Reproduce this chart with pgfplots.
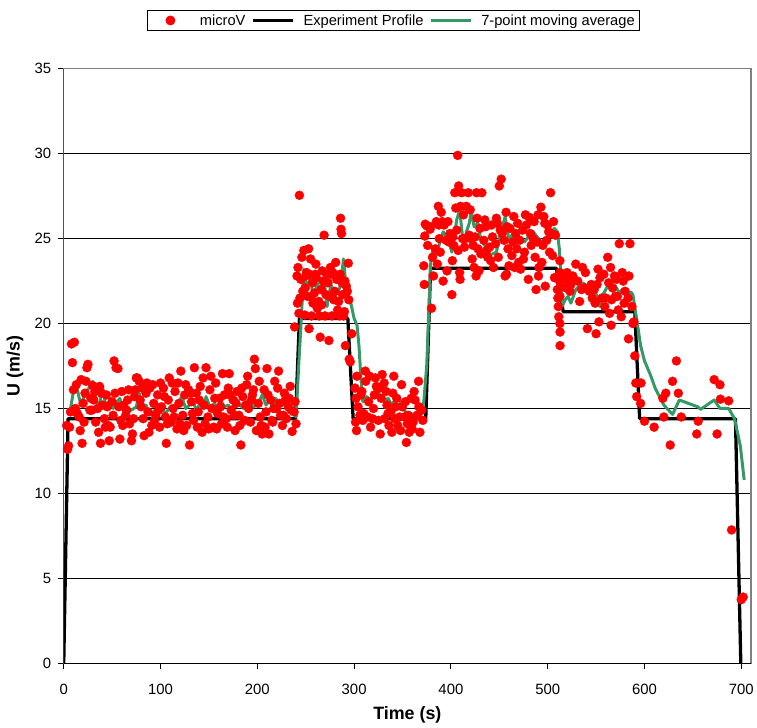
\documentclass[border=0pt]{standalone}
\usepackage{fontspec}
\setmainfont{Liberation Sans}
\usepackage{pgfplots}
\pgfplotsset{compat=1.18}
\definecolor{avggreen}{RGB}{51,153,102}
\pgfplotsset{
  lineleg/.style={legend image code/.code={\draw[##1] (0bp,0bp) -- (40bp,0bp);}},
  dotleg/.style={legend image code/.code={\path (0bp,0bp) (40bp,0bp); \fill[red] (20bp,0bp) circle[radius=4.5bp];}},
}

\begin{document}
\begin{tikzpicture}
\begin{axis}[
  scale only axis,
  width=690bp, height=597bp,
  xmin=0, xmax=710, ymin=0, ymax=35,
  xtick={0,100,...,700}, ytick={0,5,...,35},
  ymajorgrids, grid style={black, line width=0.9bp},
  axis line style={gray, line width=1.3bp},
  tick align=outside, xtick pos=left, ytick pos=left,
  major tick length=6bp,
  tick style={black, line width=1bp},
  /pgf/number format/assume math mode=true,
  tick label style={font=\fontsize{15}{18}\selectfont},
  xticklabel style={yshift=-11bp},
  yticklabel style={xshift=-3bp},
  xlabel={Time (s)}, ylabel={U (m/s)},
  every axis x label/.style={at={(axis description cs:0.5,0)}, yshift=-52bp, anchor=center,
    font=\bfseries\fontsize{18}{21}\selectfont},
  every axis y label/.style={at={(axis description cs:0,0.5)}, xshift=-49bp, anchor=center, rotate=90,
    font=\bfseries\fontsize{18}{21}\selectfont},
  legend columns=3,
  legend style={at={(axis description cs:0.4797,1.0988)}, anchor=north,
    draw=black, line width=0.9bp, font=\fontsize{14.8}{18}\selectfont,
    inner xsep=3bp, inner ysep=2bp,
    /tikz/every odd column/.append style={column sep=7bp},
    /tikz/every even column/.append style={column sep=4bp}},
]

% measured speed
\addplot[only marks, mark=*, mark size=4.5bp, color=red, dotleg]
coordinates {
 (4,12.6) (5,12.8) (6,13.9) (7,14.8) (8,18.8) (9,17.7) (11,18.9) (12,15.0) (13,16.4) (14,14.7)
 (16,14.5) (17,13.7) (18,16.7) (19,12.95) (20,15.3) (22,15.9) (24,17.4) (25,17.6) (27,14.9) (28,15.6)
 (30,16.35) (31,15.5) (33,14.2) (35,15.0) (37,16.3) (38,12.95) (40,15.2) (42,14.4) (44,15.8) (46,14.0)
 (47,13.1) (48,13.9) (50,15.4) (52,17.8) (54,17.4) (56,17.35) (58,13.2) (59,14.3) (60,16.0) (62,15.2)
 (64,14.6) (66,15.5) (68,14.1) (70,13.1) (71,13.5) (73,15.7) (75,16.8) (76,16.8) (78,16.6) (80,15.1)
 (82,14.4) (83,13.4) (85,15.9) (87,14.8) (89,16.2) (91,14.0) (93,15.3) (95,14.6) (97,15.8) (99,13.9)
 (101,15.1) (103,16.2) (105,14.5) (106,12.95) (108,15.5) (109,16.8) (111,14.2) (113,15.0) (115,16.0) (117,13.8)
 (119,15.3) (121,17.2) (123,14.6) (125,15.8) (127,14.0) (129,16.1) (130,12.85) (132,15.4) (134,14.3) (135,17.4)
 (137,15.9) (139,14.8) (141,16.3) (143,13.6) (145,15.2) (147,17.4) (149,14.5) (151,16.1) (153,15.0) (155,13.9)
 (157,16.5) (159,14.7) (161,15.6) (163,14.1) (164,17.05) (166,15.8) (168,14.4) (170,16.2) (171,17.05) (173,14.9)
 (175,15.5) (177,13.7) (179,16.0) (181,14.6) (183,12.85) (185,15.7) (187,14.3) (189,16.4) (191,15.0) (193,14.2)
 (195,15.8) (197,17.9) (198,17.35) (199,13.7) (201,15.3) (203,14.5) (205,13.5) (207,16.1) (209,14.8) (210,17.35)
 (212,13.5) (214,15.5) (216,14.2) (218,16.6) (220,15.0) (222,17.2) (224,14.6) (226,14.0) (228,15.9) (230,14.4)
 (232,15.1) (234,16.3) (236,13.65) (238,14.8) (240,14.1)
 (3,14.0) (10,16.1) (21,14.2) (23,16.6) (29,14.9) (32,16.0) (36,13.6) (39,15.9) (43,13.9) (45,15.1)
 (51,14.6) (53,15.9) (57,15.1) (61,14.0) (65,14.9) (67,16.1) (72,14.4) (74,16.1) (79,15.5) (81,16.2)
 (86,16.5) (88,13.6) (92,16.4) (94,14.3) (98,14.9) (100,16.5) (104,15.7) (107,14.1) (112,16.5) (114,14.5)
 (118,16.5) (120,14.1) (124,13.7) (126,16.4) (131,15.9) (133,14.7) (138,13.9) (140,15.5) (144,16.8) (146,14.1)
 (150,13.8) (152,16.9) (156,15.6) (158,13.8) (162,15.1) (165,14.5) (169,13.9) (172,15.8) (176,14.6) (178,15.3)
 (182,14.0) (184,16.2) (188,15.2) (190,16.9) (194,15.5) (196,16.1) (202,16.6) (204,14.0) (208,13.9) (211,15.8)
 (215,14.3) (217,15.0) (221,16.2) (223,15.3) (227,14.6) (229,15.5) (233,15.6) (235,14.9) (239,15.4)
 (238.5,19.8) (241,22.8) (241.5,21.2) (242,23.3) (243,20.6) (243.5,27.55) (244,21.5) (245,22.6) (246,23.9) (247,21.9)
 (248,24.3) (249,20.5) (250,22.8) (251,23.0) (252,21.6) (253,24.4) (253.5,19.7) (255,23.8) (256,20.45) (257,22.4)
 (258,21.3) (259,21.8) (260,22.9) (261,22.7) (262,20.9) (263.5,21.3) (264,20.45) (265,19.2) (266,22.0) (267,23.1)
 (268,22.5) (269,25.2) (270,20.45) (271,21.7) (273,22.4) (274,19.0) (275,21.6) (276,22.9) (277,20.45) (278,23.0)
 (279,21.4) (281,23.6) (282,22.6) (283,20.8) (284,21.3) (285,20.45) (286,26.2) (286.5,25.55) (287,25.3) (287.5,22.4)
 (288,21.7) (289,20.45) (290,20.7) (291,18.7) (292,22.2) (293,21.9) (294,23.55) (294.5,21.4) (295,17.9) (296,17.75)
 (297.5,19.4)
 (249.5,22.1) (254,22.9) (257.5,21.2) (260.5,23.5) (266.5,21.1) (272,22.9) (275.5,23.3) (280,21.9) (285.5,22.9) (290.5,22.5)
 (301,16.2) (302,15.6) (301.5,14.2) (302.5,13.7) (304,15.1) (306,14.6) (308,16.0) (310,14.7) (311.6,17.2) (312,16.6)
 (315,15.4) (317,13.9) (320,15.0) (322,16.8) (323,16.3) (325,14.3) (327,13.5) (329,17.0) (331,16.5) (331.5,14.4)
 (334,15.2) (336,14.0) (338,14.8) (340,15.9) (341,16.9) (342,14.4) (344,15.6) (345,14.0) (348,13.7) (350,15.1)
 (352,14.5) (354,13.0) (355,14.1) (357,13.6) (359,15.6) (361,14.2) (363,15.5) (365,14.6) (366.6,16.6) (368,13.6)
 (370,14.9) (371,14.3)
 (303,16.9) (307,15.8) (309,14.3) (314,14.5) (316,16.9) (319,14.4) (321,15.8) (326,16.2) (328,15.6) (333,16.0)
 (335,14.7) (339,13.6) (343,15.1) (347,14.5) (349,16.4) (353,15.4) (356,14.6) (360,13.8) (362,16.0) (367,15.1)
 (372,23.4) (372.5,22.3) (373,25.15) (373.5,25.85) (375,25.75) (376,24.6) (378.5,25.55) (379,25.7) (380,20.9) (382,22.8)
 (384,24.4) (385,26.0) (387,26.9) (387.5,25.8) (389,24.2) (390,26.55) (391,26.0) (392,22.5) (393,25.8) (395,24.9)
 (397,26.0) (399,25.3) (401,21.7) (401.5,23.7) (403,24.6) (404,27.7) (405,26.8) (406,25.5) (407,29.9) (408,28.1)
 (409,23.0) (409.5,22.6) (410,26.9) (411,27.7) (412,25.0) (413,26.4) (414,24.5) (415,25.0) (416,26.9) (418,27.7)
 (419,25.2) (420,26.7) (421,25.0) (422,23.8) (423,24.6) (424,23.3) (425,25.1) (426,22.8) (426.5,27.7) (428,24.4)
 (430,25.6) (431,24.1) (432,27.7) (434,24.9) (436,25.7) (438,23.9) (440,24.5) (443,25.1) (444,23.3) (446,24.7)
 (448,25.9) (450,28.1) (451,25.5) (452,28.5) (453,25.3) (455,24.9) (456,22.8) (457,26.55) (457.5,22.9) (459,24.4)
 (461,25.6) (463,24.0) (465,26.3) (466,23.3) (467,25.3) (469,25.9) (470,23.6) (471,24.9) (472,23.2) (474,25.5)
 (476,24.2) (478,25.8) (481,26.25) (483,24.6) (485,25.0) (487,23.9) (488,22.0) (490,26.4) (490.5,22.8) (491,23.3)
 (493,26.85) (495,24.6) (497,25.9) (497.5,22.2) (499,24.9) (501,25.4) (503,27.7) (503.5,25.3) (505,24.0) (507,22.7)
 (508,25.2) (510,22.0) (510.5,21.5) (511,21.0) (511.5,20.4)
 (381,23.9) (386,23.5) (388,25.0) (396,23.1) (398,24.8) (402,25.1) (407.5,24.3) (427,26.2) (429,23.1) (435,26.1)
 (437,24.3) (441,23.7) (442,25.8) (447,26.2) (449,23.9) (458,25.7) (460,23.4) (464,24.8) (468,24.4) (475,23.8)
 (477,26.4) (480,22.6) (482,25.3) (486,26.0) (489,24.8) (494,23.6) (496,26.3) (500,25.8) (502,24.2) (506,26.0)
 (512.6,23.7) (512.6,23.0) (512.6,22.45) (512.8,22.15) (512.6,21.6) (512.6,20.0) (512.8,19.5) (512.8,18.7) (519,22.1) (522,22.5)
 (522.6,22.6) (523,21.9) (526,22.8) (529,23.5) (533,21.3) (536,23.3) (538,22.1) (541,19.7) (543,21.9) (545,22.3)
 (546,21.5) (548,22.0) (550,19.4) (551,22.3) (553,20.1) (554,22.7) (556,21.5) (558,22.9) (560,21.5) (562,23.9)
 (563,22.4) (564,20.6) (565,23.3) (565.5,19.9) (567,22.1) (569,22.8) (570,21.6) (572,21.6) (574,24.7) (576,20.4)
 (578,22.5) (580,21.9) (583,21.5) (583.5,19.1) (585,24.7) (587,21.0) (588,20.0) (589,20.1) (590,18.1) (591,16.5)
 (516,22.6) (520,23.0) (524,22.3) (531,22.5) (535,22.0) (539,23.0) (549,21.2) (552,23.2) (559,21.0) (566,21.4)
 (571,22.6) (573,20.8) (577,23.0) (579,21.2) (584,22.8)
 (592,15.7) (596,15.3) (596.5,16.5) (600,14.25) (610,13.9) (619,15.6) (620,14.5) (622,15.9) (626.6,12.85) (629,16.6)
 (633,17.8) (635,15.9) (638,14.5) (654,13.5) (655.5,14.25) (672,16.7) (675,13.5) (678,16.4) (678.5,15.55) (687,15.45)
 (690,7.85) (700,3.75) (702,3.9)
};
\addlegendentry{microV}

% experiment profile
\addplot[black, line width=3.3bp, line join=round, lineleg]
coordinates {
 (0,0) (4.5,14.4) (239.5,14.4) (243.5,20.3) (293.5,20.3) (299,14.4) (374,14.4) (379,23.25)
 (509,23.25) (516,20.7) (590,20.7) (595,14.4) (694,14.4) (699.5,0)
};
\addlegendentry{Experiment Profile}

% 7-point moving average
\addplot[avggreen, line width=3bp, line join=round, lineleg]
coordinates {
 (7,15.0) (10,16.0) (13,16.4) (16,15.6) (18,15.2) (22,15.9) (26,16.2) (30,16.6) (34,15.4) (37,15.2)
 (40,16.3) (44,15.0) (48,15.6) (51,15.0) (55,15.4) (58,15.6) (62,14.8) (65,15.0) (70,14.9) (75,15.1)
 (78,15.9) (82,15.0) (85,15.2) (89,14.6) (94,14.9) (97,14.6) (101,15.0) (105,14.7) (110,15.1) (114,14.8)
 (118,15.3) (122,15.7) (126,15.0) (130,15.2) (133,15.5) (137,14.9) (141,15.3) (144,15.0) (147,15.7) (151,15.1)
 (156,15.3) (159,14.9) (162,15.5) (166,15.1) (170,15.2) (174,14.9) (178,15.6) (182,15.2) (186,15.0) (189,15.4)
 (192,15.45) (196,15.1) (200,15.2) (205,15.8) (209,15.2) (213,15.5) (216,15.1) (219,15.6) (223,15.3) (226,15.3)
 (230,15.1) (233,15.0) (237,14.8) (240,14.5) (243,17.8) (245,19.8) (248,23.2) (251,22.2) (255,22.6) (258,21.45)
 (262,22.4) (265,21.85) (269,22.6) (272,21.0) (276,22.3) (281,21.65) (286,22.2) (289,23.8) (292,22.0) (297,21.1)
 (300,20.3) (303,19.9) (305,18.7) (307,16.8) (309,15.4) (313,15.7) (317,15.5) (321,15.8) (325,16.0) (328,15.6)
 (331,15.4) (335,15.6) (339,15.2) (342,15.5) (346,15.6) (349,15.2) (353,14.8) (359,14.7) (363,14.5) (365,14.4)
 (368,14.5) (372,15.4) (375,17.5) (377,20.5) (379,23.5) (381,24.3) (383,23.9) (386,24.3) (392,25.4) (397,25.0)
 (401,24.2) (406,26.1) (409,26.7) (413,24.6) (416,25.4) (419,25.9) (421,26.6) (424,25.7) (428,25.9) (431,24.9)
 (435,24.6) (438,24.0) (443,24.1) (447,24.2) (450,25.0) (456,26.3) (460,24.9) (463,25.2) (468,24.9) (471,25.1)
 (476,24.8) (480,25.1) (485,25.4) (492,24.9) (497,24.75) (504,25.4) (507,25.6) (510,25.4) (512,24.4) (514,22.6)
 (515,21.0) (518,21.4) (521,21.6) (524,21.2) (529,22.0) (536,22.4) (541,22.2) (545,21.8) (548,22.1) (554,21.0)
 (557,21.7) (561,22.1) (565,22.2) (567,21.9) (570,22.2) (574,21.8) (577,22.0) (580,21.7) (586,21.85) (588,21.7)
 (591,20.6) (596,18.7) (600,17.8) (606,17.0) (611,16.2) (620,15.2) (629,14.65) (636,15.5) (655,15.1) (658,14.95)
 (672,15.5) (678,15.0) (687,15.0) (693,14.4) (699,12.8) (703,10.8)
};
\addlegendentry{7-point moving average}

\draw[black, line width=1.5bp] (rel axis cs:0,1) -- (rel axis cs:0,0) -- (rel axis cs:1,0);
\end{axis}
\path[use as bounding box] ([shift={(-64bp,-64bp)}]current axis.south west) rectangle ([shift={(3bp,69bp)}]current axis.north east);
\end{tikzpicture}
\end{document}
